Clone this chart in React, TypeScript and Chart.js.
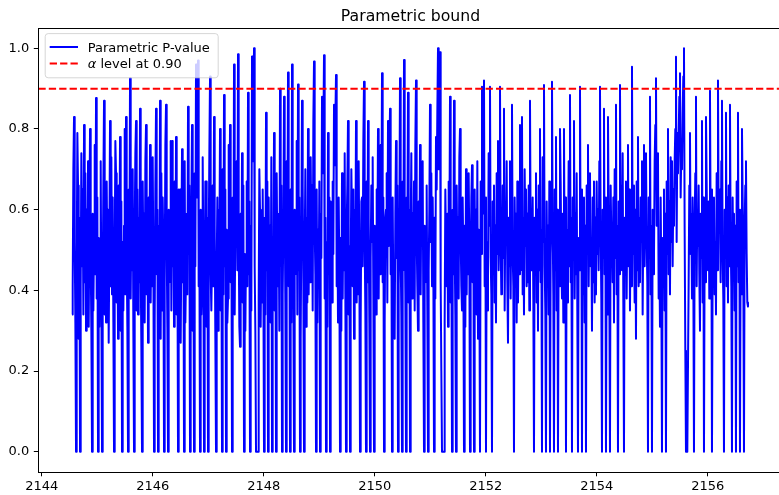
import React, { useEffect, useRef } from "react";
import { Chart, registerables } from "chart.js";

Chart.register(...registerables);

// ---- data ----
const TITLE = "Parametric bound";
const SERIES_LABEL = "Parametric P-value";
const ALPHA_LEVEL = 0.9;
const ALPHA_LABEL_REST = " level at 0.90";

// x positions: regularly spaced time index starting at X_START
const X_START = 2144.546;
const X_STEP = 0.012012;

const pValues: number[] = [
  0.34, 0.41, 0.70, 0.83, 0.52, 0.32, 0, 0.45, 0.79, 0.66, 0.28, 0.58, 0, 0.41, 0.74, 0.46, 0.65, 0.34, 0.81, 0.42, 0.69, 0.30, 0.60, 0.39, 0.72, 0.31, 0.56, 0.8, 0.48, 0.30,
  0, 0.59, 0.35, 0.52, 0.76, 0.44, 0.877, 0.38, 0.63, 0, 0.53, 0.31, 0.49, 0.72, 0.37, 0, 0.42, 0.66, 0.87, 0.34, 0.59, 0.32, 0.67, 0.46, 0.60, 0.27, 0.51, 0.82, 0.41, 0.73,
  0.39, 0.63, 0.32, 0, 0.48, 0.77, 0.69, 0.37, 0.56, 0.28, 0.66, 0.45, 0.78, 0.30, 0.62, 0, 0.52, 0.35, 0.56, 0.80, 0.39, 0.83, 0.49, 0.31, 0, 0.65, 0.44, 0.926, 0.38, 0.60,
  0.45, 0.70, 0.30, 0, 0.55, 0.74, 0.82, 0.35, 0.65, 0.34, 0.58, 0.42, 0.85, 0.46, 0.26, 0, 0.67, 0.49, 0.59, 0.32, 0.72, 0.81, 0.39, 0.62, 0.27, 0.63, 0.45, 0.76, 0.37, 0.56,
  0.41, 0.73, 0.48, 0, 0.32, 0.66, 0.85, 0.44, 0.60, 0, 0.56, 0.38, 0.87, 0.28, 0.69, 0.35, 0.63, 0.51, 0, 0.41, 0.76, 0.86, 0.52, 0.31, 0, 0.60, 0.42, 0.53, 0.77, 0.35,
  0.77, 0.46, 0.59, 0.31, 0.67, 0.38, 0.78, 0.34, 0.55, 0, 0.65, 0.45, 0.65, 0.27, 0.52, 0.75, 0.42, 0.63, 0, 0.72, 0.32, 0.44, 0.59, 0.39, 0.855, 0.49, 0.66, 0, 0.37, 0.62,
  0.81, 0.30, 0.56, 0, 0.69, 0.46, 0.96, 0.63, 0.80, 0.97, 0.41, 0.53, 0, 0.60, 0.34, 0.42, 0.73, 0.49, 0, 0.38, 0.67, 0.67, 0.31, 0.58, 0, 0.51, 0.74, 0.93, 0.44, 0.35,
  0.49, 0.66, 0.41, 0.83, 0.56, 0.28, 0, 0.45, 0.63, 0.30, 0.60, 0.48, 0.80, 0.35, 0.53, 0, 0.70, 0.39, 0.884, 0.46, 0.65, 0, 0.55, 0.32, 0.38, 0.76, 0.52, 0.81, 0.42, 0.59,
  0, 0.63, 0.38, 0.96, 0.34, 0.56, 0.51, 0.72, 0.45, 0.985, 0.53, 0.31, 0.26, 0.59, 0.42, 0.74, 0.37, 0.66, 0, 0.49, 0.30, 0.49, 0.67, 0.41, 0.89, 0.44, 0.62, 0, 0.56, 0.35,
  0.98, 0.72, 0.86, 1.0, 0.46, 0.3, 0, 0, 0, 0, 0.38, 0.70, 0.60, 0.31, 0.52, 0.37, 0.65, 0.44, 0, 0.58, 0.34, 0.84, 0.45, 0.67, 0, 0.63, 0.39, 0.56, 0.32, 0.73,
  0, 0.52, 0.42, 0.79, 0.35, 0.60, 0, 0.69, 0.48, 0.41, 0.59, 0.30, 0.9, 0.51, 0.66, 0, 0.39, 0.56, 0.88, 0.62, 0.37, 0, 0.72, 0.49, 0.94, 0.41, 0.58, 0, 0.65, 0.32,
  0.96, 0.53, 0.38, 0, 0.60, 0.44, 0.48, 0.77, 0.34, 0.91, 0.45, 0.63, 0, 0.28, 0.55, 0.87, 0.66, 0.41, 0, 0.49, 0.70, 0.31, 0.58, 0.37, 0.80, 0.39, 0.63, 0.42, 0.73, 0.52,
  0.66, 0.35, 0.82, 0.967, 0.56, 0.44, 0, 0.65, 0.32, 0.55, 0.42, 0.67, 0, 0.59, 0.48, 0.88, 0.69, 0.78, 0.983, 0.38, 0.58, 0, 0.52, 0.31, 0.79, 0.45, 0.63, 0, 0.62, 0.41,
  0.37, 0.67, 0.49, 0.86, 0.71, 0.82, 0.934, 0.41, 0.59, 0.32, 0.63, 0.46, 0, 0.53, 0.30, 0.69, 0.38, 0.60, 0.45, 0.74, 0.39, 0, 0.56, 0.66, 0.82, 0.34, 0.51, 0, 0.44, 0.70,
  0.58, 0.41, 0.65, 0.28, 0.60, 0.45, 0.82, 0.37, 0.55, 0.39, 0.72, 0.49, 0, 0.31, 0.62, 0.63, 0.46, 0.77, 0.917, 0.52, 0.35, 0, 0.67, 0.42, 0.82, 0.58, 0.32, 0, 0.48, 0.66,
  0.52, 0.73, 0.39, 0, 0.56, 0.45, 0.34, 0.65, 0.49, 0.8, 0.38, 0.59, 0.44, 0.76, 0.53, 0.938, 0.42, 0.63, 0, 0.32, 0.58, 0.60, 0.69, 0.37, 0.82, 0.51, 0.72, 0.85, 0.44, 0.60,
  0, 0.63, 0.38, 0.46, 0.28, 0.59, 0.77, 0.48, 0.66, 0, 0.41, 0.56, 0.926, 0.49, 0.34, 0, 0.67, 0.45, 0.971, 0.58, 0.39, 0, 0.63, 0.52, 0.89, 0.37, 0.60, 0, 0.55, 0.74,
  0.38, 0.59, 0.44, 0.67, 0.35, 0.76, 0.92, 0.53, 0.41, 0.30, 0.62, 0.46, 0.76, 0.39, 0.65, 0.51, 0.72, 0.32, 0, 0.56, 0.42, 0.49, 0.66, 0.35, 0, 0.45, 0.60, 0.86, 0.52, 0.69,
  0.41, 0.63, 0.46, 0, 0.58, 0.38, 0.78, 0.65, 0.84, 1.0, 0.7, 0.9, 0.99, 0.42, 0.2, 0, 0, 0, 0, 0.32, 0.65, 0.52, 0.41, 0.59, 0.31, 0.67, 0.49, 0.88, 0.37, 0.56,
  0, 0.60, 0.44, 0.87, 0.51, 0.34, 0, 0.66, 0.46, 0.58, 0.38, 0.73, 0.8, 0.53, 0.41, 0.35, 0.63, 0.48, 0, 0.56, 0.31, 0.70, 0.39, 0.62, 0.44, 0.69, 0.51, 0, 0.45, 0.63,
  0.71, 0.42, 0.58, 0, 0.65, 0.38, 0.60, 0.34, 0.72, 0.28, 0.55, 0.46, 0, 0.67, 0.49, 0.905, 0.59, 0.80, 0.92, 0.41, 0.63, 0, 0.52, 0.35, 0.45, 0.74, 0.56, 0.905, 0.48, 0.39,
  0, 0.62, 0.44, 0.66, 0.37, 0.56, 0.32, 0.69, 0.49, 0.77, 0.45, 0.60, 0.905, 0.52, 0.39, 0.41, 0.66, 0.48, 0.85, 0.35, 0.59, 0.53, 0.72, 0.42, 0.27, 0.58, 0.46, 0.72, 0.38, 0.63,
  0.86, 0.49, 0.41, 0, 0.63, 0.46, 0.59, 0.32, 0.67, 0.37, 0.56, 0.44, 0.81, 0.45, 0.62, 0.83, 0.39, 0.58, 0.34, 0.70, 0.51, 0.65, 0.41, 0.59, 0.42, 0.66, 0.35, 0.87, 0.53, 0.45,
  0.49, 0.63, 0.38, 0, 0.58, 0.48, 0.69, 0.37, 0.60, 0.30, 0.66, 0.45, 0.80, 0.42, 0.55, 0, 0.73, 0.52, 0.909, 0.46, 0.35, 0, 0.62, 0.41, 0.56, 0.34, 0.67, 0, 0.49, 0.59,
  0.917, 0.56, 0.39, 0, 0.65, 0.45, 0.78, 0.35, 0.60, 0, 0.52, 0.41, 0.8, 0.67, 0.48, 0.38, 0.59, 0.32, 0.8, 0.44, 0.63, 0, 0.55, 0.37, 0.49, 0.72, 0.46, 0.884, 0.42, 0.58,
  0, 0.63, 0.49, 0.82, 0.38, 0.59, 0.44, 0.69, 0.35, 0, 0.53, 0.45, 0.905, 0.48, 0.65, 0, 0.58, 0.39, 0.63, 0.32, 0.56, 0, 0.66, 0.49, 0.76, 0.41, 0.60, 0.69, 0.46, 0.53,
  0.30, 0.63, 0.42, 0.67, 0.37, 0.58, 0.39, 0.67, 0.49, 0.60, 0.45, 0.72, 0.905, 0.55, 0.38, 0, 0.60, 0.48, 0.85, 0.44, 0.63, 0, 0.51, 0.34, 0.83, 0.59, 0.41, 0, 0.66, 0.53,
  0.55, 0.42, 0.63, 0.32, 0.70, 0.48, 0.86, 0.39, 0.56, 0, 0.62, 0.44, 0.909, 0.52, 0.66, 0.45, 0.74, 0.37, 0, 0.58, 0.49, 0.67, 0.38, 0.60, 0.76, 0.46, 0.65, 0.35, 0.59, 0.41,
  0.954, 0.49, 0.66, 0.52, 0.37, 0.60, 0.28, 0.67, 0.45, 0.78, 0.41, 0.58, 0.42, 0.63, 0.52, 0.72, 0.34, 0.59, 0.76, 0.46, 0.66, 0.74, 0.53, 0.42, 0, 0.63, 0.48, 0.88, 0.39, 0.56,
  0, 0.60, 0.44, 0.48, 0.72, 0.81, 0.926, 0.56, 0.69, 0.74, 0.38, 0.51, 0.31, 0.63, 0.42, 0, 0.53, 0.46, 0.65, 0.35, 0.59, 0, 0.67, 0.49, 0.8, 0.44, 0.62, 0.39, 0.73, 0.52,
  0.72, 0.46, 0.65, 0.56, 0.72, 0.8, 0.979, 0.52, 0.79, 0.69, 0.78, 0.88, 0.938, 0.63, 0.75, 0.7, 0.84, 0.93, 1.0, 0.55, 0.25, 0, 0, 0, 0, 0.42, 0.66, 0.79, 0.49, 0.59,
  0.38, 0.63, 0.45, 0, 0.56, 0.69, 0.88, 0.41, 0.60, 0.51, 0.66, 0.44, 0.30, 0.59, 0.48, 0.82, 0.37, 0.63, 0, 0.52, 0.42, 0.83, 0.67, 0.49, 0.45, 0.62, 0.38, 0.895, 0.55, 0.65,
  0, 0.46, 0.59, 0.63, 0.39, 0.52, 0.34, 0.69, 0.45, 0.92, 0.58, 0.65, 0.55, 0.42, 0.72, 0.87, 0.49, 0.38, 0, 0.60, 0.48, 0.84, 0.41, 0.63, 0.37, 0.66, 0.46, 0.86, 0.53, 0.41,
  0, 0.63, 0.44, 0.59, 0.35, 0.56, 0, 0.67, 0.46, 0.84, 0.42, 0.60, 0, 0.52, 0.39, 0.8, 0.63, 0.45, 0, 0.56, 0.66, 0.72, 0.49, 0.37, 0.36,
];

const X_TICKS = [2144, 2146, 2148, 2150, 2152, 2154, 2156];
const Y_TICKS = [0, 0.2, 0.4, 0.6, 0.8, 1.0];
const X_MIN = 2143.94;
const X_MAX = 2157.35;
const Y_MIN = -0.0496;
const Y_MAX = 1.0496;

const FONT = '"DejaVu Sans", "Liberation Sans", sans-serif';

const framePlugin = {
  id: "frame",
  afterDraw(chart: any) {
    const { ctx, chartArea: a } = chart;
    ctx.save();
    // spines
    ctx.strokeStyle = "#000";
    ctx.lineWidth = 1;
    const l = Math.round(a.left) + 0.5;
    const t = Math.round(a.top) + 0.5;
    const r = Math.round(a.right) + 0.5;
    const b = Math.round(a.bottom) + 0.5;
    ctx.strokeRect(l, t, r - l, b - t);

    // title
    ctx.fillStyle = "#000";
    ctx.font = `15.7px ${FONT}`;
    ctx.textAlign = "center";
    ctx.textBaseline = "alphabetic";
    ctx.fillText(TITLE, (a.left + a.right) / 2, a.top - 7.8);

    // legend
    const lx = a.left + 6.8;
    const ly = a.top + 5.3;
    const lw = 173;
    const lh = 44.2;
    const rad = 3;
    ctx.beginPath();
    ctx.moveTo(lx + rad, ly);
    ctx.lineTo(lx + lw - rad, ly);
    ctx.arcTo(lx + lw, ly, lx + lw, ly + rad, rad);
    ctx.lineTo(lx + lw, ly + lh - rad);
    ctx.arcTo(lx + lw, ly + lh, lx + lw - rad, ly + lh, rad);
    ctx.lineTo(lx + rad, ly + lh);
    ctx.arcTo(lx, ly + lh, lx, ly + lh - rad, rad);
    ctx.lineTo(lx, ly + rad);
    ctx.arcTo(lx, ly, lx + rad, ly, rad);
    ctx.closePath();
    ctx.fillStyle = "rgba(255,255,255,0.8)";
    ctx.fill();
    ctx.strokeStyle = "rgba(204,204,204,0.8)";
    ctx.lineWidth = 1;
    ctx.stroke();

    const row1 = ly + 13.4;
    const row2 = ly + 30.0;
    const sx0 = lx + 4.5;
    const sx1 = lx + 32.8;
    const tx = lx + 42.6;

    ctx.lineWidth = 2;
    ctx.strokeStyle = "#0000ff";
    ctx.beginPath();
    ctx.moveTo(sx0, row1);
    ctx.lineTo(sx1, row1);
    ctx.stroke();

    ctx.strokeStyle = "#ff0000";
    ctx.setLineDash([7.3, 3.1]);
    ctx.beginPath();
    ctx.moveTo(sx0, row2);
    ctx.lineTo(sx1, row2);
    ctx.stroke();
    ctx.setLineDash([]);

    ctx.fillStyle = "#000";
    ctx.textAlign = "left";
    ctx.textBaseline = "alphabetic";
    ctx.font = `13px ${FONT}`;
    ctx.fillText(SERIES_LABEL, tx, row1 + 4.7);
    ctx.font = `italic 13px ${FONT}`;
    ctx.fillText("\u03b1", tx, row2 + 4.7);
    const aw = ctx.measureText("\u03b1").width;
    ctx.font = `13px ${FONT}`;
    ctx.fillText(ALPHA_LABEL_REST, tx + aw, row2 + 4.7);
    ctx.restore();
  },
};

export default function App() {
  const canvasRef = useRef<HTMLCanvasElement | null>(null);

  useEffect(() => {
    const canvas = canvasRef.current;
    if (!canvas) return;
    const seriesData = pValues.map((v, i) => ({ x: X_START + i * X_STEP, y: v }));
    const alphaData = [
      { x: X_MIN, y: ALPHA_LEVEL },
      { x: X_MAX, y: ALPHA_LEVEL },
    ];
    const chart = new Chart(canvas, {
      type: "line",
      data: {
        datasets: [
          {
            label: "alpha",
            data: alphaData,
            borderColor: "#ff0000",
            borderWidth: 2,
            borderDash: [7.3, 3.1],
            pointRadius: 0,
            fill: false,
            order: 0,
          },
          {
            label: SERIES_LABEL,
            data: seriesData,
            borderColor: "#0000ff",
            borderWidth: 2,
            borderJoinStyle: "round",
            pointRadius: 0,
            tension: 0,
            fill: false,
            order: 1,
          },
        ],
      },
      options: {
        responsive: false,
        animation: false,
        devicePixelRatio: 1,
        events: [],
        layout: { padding: { left: 0, top: 28.3, right: 1.4, bottom: 0 } },
        plugins: {
          legend: { display: false },
          title: { display: false },
          tooltip: { enabled: false },
        },
        scales: {
          x: {
            type: "linear",
            min: X_MIN,
            max: X_MAX,
            afterFit: (s: any) => {
              s.height = 23.3;
            },
            afterBuildTicks: (s: any) => {
              s.ticks = X_TICKS.map((v) => ({ value: v }));
            },
            grid: {
              display: true,
              drawOnChartArea: false,
              drawTicks: true,
              tickLength: 4.6,
              color: "#000",
              lineWidth: 1,
            },
            border: { display: false },
            ticks: {
              color: "#000",
              font: { family: FONT, size: 13 },
              padding: 3,
              maxRotation: 0,
              autoSkip: false,
              callback: (v: any) => String(v),
            },
          },
          y: {
            type: "linear",
            min: Y_MIN,
            max: Y_MAX,
            afterFit: (s: any) => {
              s.width = 38.4;
            },
            afterBuildTicks: (s: any) => {
              s.ticks = Y_TICKS.map((v) => ({ value: v }));
            },
            grid: {
              display: true,
              drawOnChartArea: false,
              drawTicks: true,
              tickLength: 4.6,
              color: "#000",
              lineWidth: 1,
            },
            border: { display: false },
            ticks: {
              color: "#000",
              font: { family: FONT, size: 13 },
              padding: 4.6,
              autoSkip: false,
              callback: (v: any) => Number(v).toFixed(1),
            },
          },
        },
      },
      plugins: [framePlugin],
    } as any);
    return () => chart.destroy();
  }, []);

  return (
    <div
      style={{
        position: "fixed",
        left: 0,
        top: 0,
        width: 779,
        height: 495,
        overflow: "hidden",
        background: "#fff",
      }}
    >
      <canvas ref={canvasRef} width={784} height={495} style={{ width: 784, height: 495, display: "block" }} />
    </div>
  );
}
